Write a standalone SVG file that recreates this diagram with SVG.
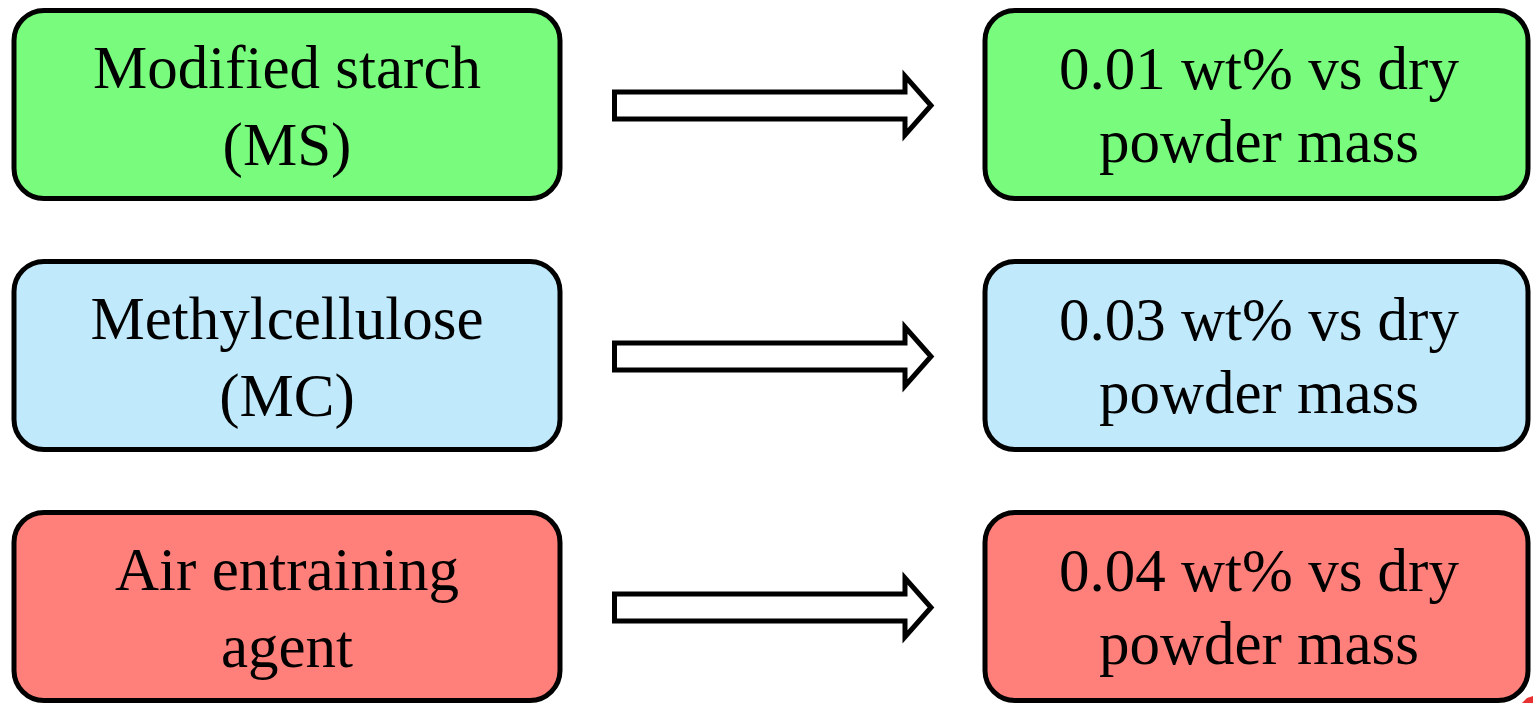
<svg xmlns="http://www.w3.org/2000/svg" width="1533" height="703" viewBox="0 0 1533 703">
<style>
.box{stroke:#000;stroke-width:5}
.g{fill:#79FB7D}.b{fill:#C0EAFB}.r{fill:#FF807B}
.t{font-family:'Liberation Serif','Times New Roman',serif;font-size:61px;fill:#000;text-anchor:middle}
.arr{fill:#fff;stroke:#000;stroke-width:5;stroke-miterlimit:10}
</style>
<rect width="1533" height="703" fill="#fff"/>
<path d="M1522 703 L1527 698 L1533 696 L1533 703 Z" fill="#E83030"/>
<g id="ms"><rect class="box g" x="14" y="10.5" width="546" height="188" rx="30"/>
<text class="t" x="287" y="88">Modified starch</text><text class="t" x="287" y="165">(MS)</text></g>
<g id="mc"><rect class="box b" x="14" y="261.5" width="546" height="188" rx="30"/>
<text class="t" x="287" y="339">Methylcellulose</text><text class="t" x="287" y="416">(MC)</text></g>
<g id="aea"><rect class="box r" x="14" y="512.5" width="546" height="188" rx="30"/>
<text class="t" x="287" y="590">Air entraining</text><text class="t" x="287" y="667">agent</text></g>
<g id="ms-dose"><rect class="box g" x="985" y="10.5" width="543" height="188" rx="30"/>
<text class="t" x="1259" y="89">0.01 wt% vs dry</text><text class="t" x="1259" y="162">powder mass</text></g>
<g id="mc-dose"><rect class="box b" x="985" y="261.5" width="543" height="188" rx="30"/>
<text class="t" x="1259" y="340">0.03 wt% vs dry</text><text class="t" x="1259" y="413">powder mass</text></g>
<g id="aea-dose"><rect class="box r" x="985" y="512.5" width="543" height="188" rx="30"/>
<text class="t" x="1259" y="591">0.04 wt% vs dry</text><text class="t" x="1259" y="664">powder mass</text></g>
<g id="connectors">
<path class="arr" d="M614.5 92 H905 V76 L931 105.5 L905 135 V119 H614.5 Z"/>
<path class="arr" d="M614.5 343 H905 V327 L931 356.5 L905 386 V370 H614.5 Z"/>
<path class="arr" d="M614.5 594 H905 V578 L931 607.5 L905 637 V621 H614.5 Z"/>
</g>
</svg>
